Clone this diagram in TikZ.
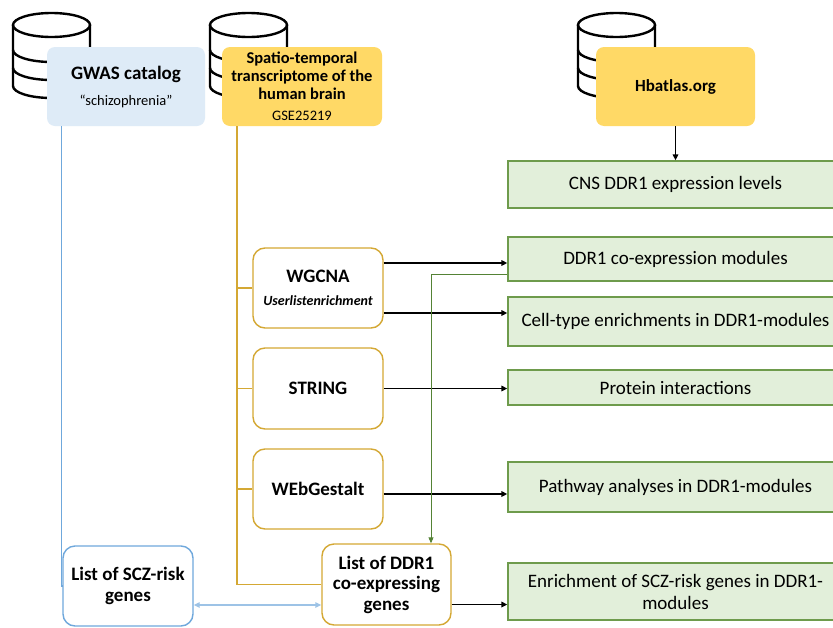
\documentclass[tikz,border=0pt]{standalone}
\usepackage{fontspec}
\setmainfont{Carlito}
\usetikzlibrary{arrows.meta,calc}
\definecolor{goldF}{HTML}{FFD966}
\definecolor{goldL}{HTML}{D4A834}
\definecolor{blueF}{HTML}{DEEBF7}
\definecolor{blueL}{HTML}{6FA8DC}
\definecolor{blueA}{HTML}{9DC3E6}
\definecolor{greenF}{HTML}{E2EFDA}
\definecolor{greenL}{HTML}{6E9B4C}
\definecolor{greenA}{HTML}{548235}
\tikzset{
  dbicon/.pic={
    \draw[line width=2.4pt] (0,0) ellipse [x radius=38.5pt, y radius=12pt];
    \draw[line width=2.4pt] (-38.5,0) -- (-38.5,-61) arc[start angle=180,end angle=360,x radius=38.5pt,y radius=12pt] -- (38.5,0);
    \foreach \yy in {-25,-43}{
      \draw[line width=2.4pt] (-38.5,\yy) arc[start angle=180,end angle=360,x radius=38.5pt,y radius=12pt];
    }
  }
}
\begin{document}
\begin{tikzpicture}[x=1pt,y=1pt,
  src/.style={rectangle, rounded corners=8pt, inner sep=0pt, align=center, minimum height=79pt},
  tool/.style={rectangle, rounded corners=12pt, draw=goldL, line width=1.4pt, fill=white, inner sep=0pt, align=center, minimum width=130pt, minimum height=80pt, font=\bfseries\fontsize{19}{21}\selectfont},
  res/.style={rectangle, draw=greenL, fill=greenF, line width=1.3pt, inner sep=0pt, minimum width=335pt, align=center, font=\fontsize{19}{22}\selectfont},
  arr/.style={-{Triangle[length=6pt,width=5.5pt]}, line width=1.6pt, black},
  goldc/.style={draw=goldL, line width=1.4pt},
]
\clip (0,0) rectangle (833,-627);
\fill[white] (0,0) rectangle (833,-627);

% database icons
\pic at (51.5,-25) {dbicon};
\pic at (248.5,-25) {dbicon};
\pic at (616.5,-25) {dbicon};

% source boxes
\node[src, fill=blueF, minimum width=158pt, font=\bfseries\fontsize{19}{21}\selectfont] (gwas) at (126,-86.5)
  {GWAS catalog\\[5pt]{\mdseries\fontsize{14.5}{16}\selectfont “schizophrenia”}};
\node[src, fill=goldF, minimum width=160pt, font=\bfseries\fontsize{16.5}{18}\selectfont] (spatio) at (302,-86.5)
  {Spatio-temporal\\ transcriptome of the\\ human brain\\[3pt]{\mdseries\fontsize{14.5}{16}\selectfont GSE25219}};
\node[src, fill=goldF, minimum width=159pt, font=\bfseries\fontsize{17}{19}\selectfont] (hb) at (675.5,-86.5) {Hbatlas.org};

% result boxes
\node[res, minimum height=47pt] (cns) at (675.5,-184.5) {CNS DDR1 expression levels};
\node[res, minimum height=44pt] (mod) at (675.5,-259) {DDR1 co-expression modules};
\node[res, minimum height=49pt] (cell) at (675.5,-321.5) {Cell-type enrichments in DDR1-modules};
\node[res, minimum height=35pt] (prot) at (675.5,-387.5) {Protein interactions};
\node[res, minimum height=50pt] (path) at (675.5,-487) {Pathway analyses in DDR1-modules};
\node[res, minimum height=57pt] (enr) at (675.5,-591.5) {Enrichment of SCZ-risk genes in DDR1-\\modules};

% tool boxes
\node[tool] (wgcna) at (318,-288) {WGCNA\\[2pt]{\itshape\fontsize{14}{16}\selectfont Userlistenrichment}};
\node[tool, minimum height=81pt] (string) at (318,-388.5) {STRING};
\node[tool] (webg) at (318,-489) {WEbGestalt};
\node[tool, minimum width=129pt, minimum height=81pt, font=\bfseries\fontsize{19}{20.5}\selectfont] (listddr) at (386.5,-584.5) {List of DDR1\\co-expressing\\genes};
\node[tool, draw=blueL, minimum height=80pt, font=\bfseries\fontsize{19}{21.5}\selectfont] (scz) at (128,-586) {List of SCZ-risk\\genes};

% gold trunk and branches
\coordinate (trunk) at ($(spatio.south west)+(15,0)$);
\draw[goldc] (trunk) |- (listddr.west);
\draw[goldc] (trunk |- wgcna.west) -- (wgcna.west);
\draw[goldc] (trunk |- string.west) -- (string.west);
\draw[goldc] (trunk |- webg.west) -- (webg.west);

% blue line from GWAS
\draw[draw=blueL, line width=1.1pt] ($(gwas.south west)+(15,0)$) |- (scz.west);

% black arrows
\draw[arr] (hb.south) -- (cns.north);
\draw[arr] ([yshift=25pt]wgcna.east) -- ([yshift=25pt]wgcna.east -| mod.west);
\draw[arr] ([yshift=-25pt]wgcna.east) -- ([yshift=-25pt]wgcna.east -| cell.west);
\draw[arr] (string.east) -- (string.east -| prot.west);
\draw[arr] ([yshift=-5pt]webg.east) -- ([yshift=-5pt]webg.east -| path.west);
\draw[arr] ([yshift=-20pt]listddr.east) -- ([yshift=-20pt]listddr.east -| enr.west);

% blue double arrow
\draw[{Triangle[length=6pt,width=5.5pt]}-{Triangle[length=6pt,width=5.5pt]}, draw=blueA, line width=1.4pt, fill=blueL]
  ([yshift=-19pt]scz.east) -- ([yshift=-19pt]scz.east -| listddr.west);

% green feedback arrow
\draw[-{Triangle[length=6pt,width=5pt]}, draw=greenA, line width=0.9pt]
  ([yshift=-15pt]mod.west) -| ([xshift=44.5pt]listddr.north);
\end{tikzpicture}
\end{document}
